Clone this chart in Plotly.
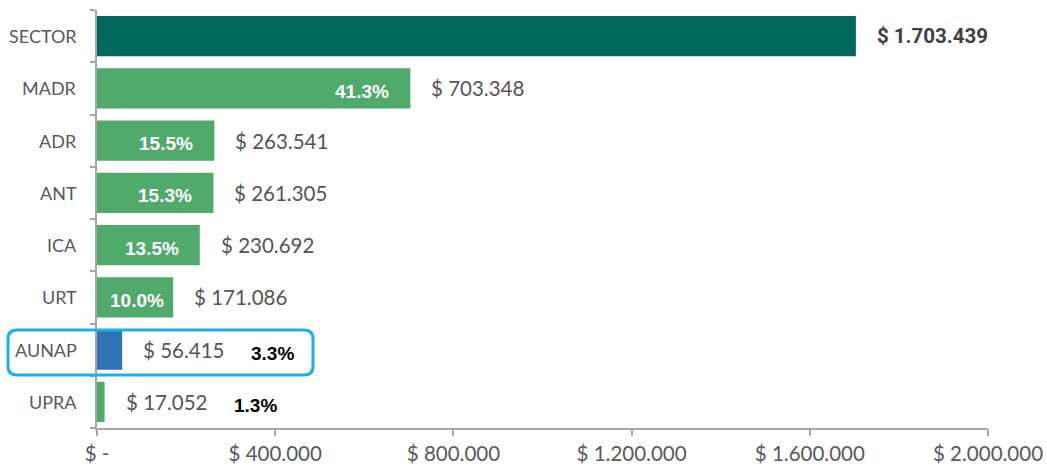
import plotly.graph_objects as go

categories = ["SECTOR", "MADR", "ADR", "ANT", "ICA", "URT", "AUNAP", "UPRA"]
values = [1703439, 703348, 263541, 261305, 230692, 171086, 56415, 17052]
value_labels = ["$ 1.703.439", "$ 703.348", "$ 263.541", "$ 261.305", "$ 230.692",
                "$ 171.086", "$ 56.415", "$ 17.052"]
pct_labels = ["", "41.3%", "15.5%", "15.3%", "13.5%", "10.0%", "3.3%", "1.3%"]
pct_inside = [False, True, True, True, True, True, False, False]
tick_vals = [0, 400000, 800000, 1200000, 1600000, 2000000]
tick_text = ["$ -", "$ 400.000", "$ 800.000", "$ 1.200.000", "$ 1.600.000", "$ 2.000.000"]
x_max = 2000000

colors = ["#02675F"] + ["#4FAA6C"] * 5 + ["#2E74B5", "#4FAA6C"]

W, H = 1047, 471
ML, MR, MT, MB = 97, 59, 10, 43
pw, ph = W - ML - MR, H - MT - MB
font_main = "Lato, Open Sans, sans-serif"

fig = go.Figure()
fig.add_trace(go.Bar(
    y=categories, x=values, orientation="h",
    marker=dict(color=colors, line=dict(width=0)),
    hoverinfo="skip", showlegend=False,
))

ann = []
for i, (c, v, lab, p, ins) in enumerate(zip(categories, values, value_labels, pct_labels, pct_inside)):
    bold = (i == 0)
    ann.append(dict(
        x=0, y=c, xref="paper", yref="y", text=c, xanchor="right", yanchor="middle",
        xshift=-18, showarrow=False,
        font=dict(family=font_main, size=18, color="#595959"),
    ))
    ann.append(dict(
        x=v, y=c, xref="x", yref="y", text=("<b>%s</b>" % lab) if bold else lab,
        xanchor="left", yanchor="middle", xshift=19, showarrow=False,
        font=dict(family="Roboto, sans-serif" if bold else font_main,
                  size=20.5, color="#404040" if bold else "#555555"),
    ))
    if p:
        if ins:
            bar_px = v / x_max * pw
            shift = max(-48, -(bar_px - 40))
            ann.append(dict(
                x=v, y=c, xref="x", yref="y", text="<b>%s</b>" % p,
                xanchor="center", yanchor="middle", xshift=shift, yshift=-3, showarrow=False,
                font=dict(family="Liberation Sans, Arial, sans-serif", size=19, color="white"),
            ))
        else:
            ann.append(dict(
                x=v, y=c, xref="x", yref="y", text="<b>%s</b>" % p,
                xanchor="left", yanchor="middle", xshift=127, yshift=-4, showarrow=False,
                font=dict(family="Liberation Sans, Arial, sans-serif", size=19, color="black"),
            ))

# highlight box (screen pixel -> paper)
def px(x):
    return (x - ML) / pw
def py(y):
    return (H - MB - y) / ph
x0, x1, y0, y1, r = 8, 313, 330, 375, 9
path = (f"M {px(x0 + r)} {py(y0)} L {px(x1 - r)} {py(y0)} Q {px(x1)} {py(y0)} {px(x1)} {py(y0 + r)} "
        f"L {px(x1)} {py(y1 - r)} Q {px(x1)} {py(y1)} {px(x1 - r)} {py(y1)} "
        f"L {px(x0 + r)} {py(y1)} Q {px(x0)} {py(y1)} {px(x0)} {py(y1 - r)} "
        f"L {px(x0)} {py(y0 + r)} Q {px(x0)} {py(y0)} {px(x0 + r)} {py(y0)} Z")

fig.update_layout(
    width=W, height=H,
    margin=dict(l=ML, r=MR, t=MT, b=MB, autoexpand=False),
    plot_bgcolor="white", paper_bgcolor="white",
    bargap=0.23,
    annotations=ann,
    shapes=[dict(type="path", path=path, xref="paper", yref="paper",
                 line=dict(color="#1BB1E7", width=3), fillcolor="rgba(0,0,0,0)", layer="above")],
    xaxis=dict(range=[0, x_max], tickvals=tick_vals, ticktext=tick_text,
               showgrid=False, zeroline=False, showline=True, linecolor="#A6A6A6", linewidth=2,
               ticks="outside", ticklen=6, tickwidth=2, tickcolor="#A6A6A6",
               tickfont=dict(family=font_main, size=20.5, color="#595959")),
    yaxis=dict(categoryorder="array", categoryarray=categories[::-1],
               showgrid=False, zeroline=False, showline=True, linecolor="#A6A6A6", linewidth=2,
               ticks="outside", ticklen=5, tickwidth=2, tickcolor="#A6A6A6", tickson="boundaries",
               showticklabels=False),
)

fig.write_html("out.html", config={"displayModeBar": False, "staticPlot": True},
               post_script="document.body.style.margin='0';document.body.style.overflow='hidden';")
